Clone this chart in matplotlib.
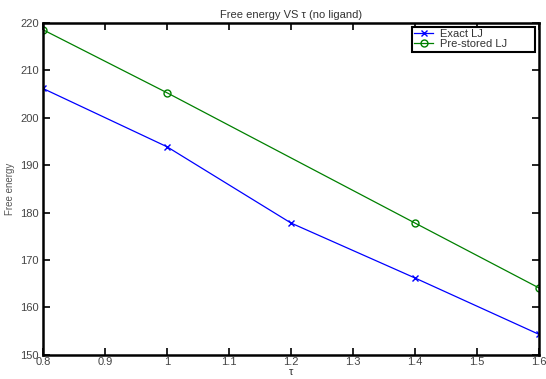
import numpy as np
import matplotlib
matplotlib.use("Agg")
import matplotlib.pyplot as plt

# Values
tau_exact = [0.8, 1.0, 1.2, 1.4, 1.6]
energy_exact = [206.2, 193.9, 177.8, 166.2, 154.3]
tau_prestored = [0.8, 1.0, 1.4, 1.6]
energy_prestored = [218.6, 205.3, 177.8, 164.1]

x_ticks = [0.8, 0.9, 1.0, 1.1, 1.2, 1.3, 1.4, 1.5, 1.6]
x_tick_labels = ["0.8", "0.9", "1", "1.1", "1.2", "1.3", "1.4", "1.5", "1.6"]
y_ticks = [150, 160, 170, 180, 190, 200, 210, 220]

plt.rcParams["font.family"] = ["Liberation Sans", "DejaVu Sans"]

fig = plt.figure(figsize=(5.46, 3.79), dpi=100)
ax = fig.add_axes([0.0788, 0.064, 0.9084, 0.875])

ax.plot(tau_exact, energy_exact, color="#0000ff", marker="x",
        markersize=4, linewidth=0.9, label="Exact LJ")
ax.plot(tau_prestored, energy_prestored, color="#008000", marker="o",
        markersize=5, markerfacecolor="none", linewidth=0.9,
        label="Pre-stored LJ")

ax.set_xlim(0.8, 1.6)
ax.set_ylim(150, 220)
ax.set_xticks(x_ticks)
ax.set_xticklabels(x_tick_labels)
ax.set_yticks(y_ticks)
ax.tick_params(direction="in", length=5, width=1.2, labelsize=8,
               labelcolor="#444444", top=True, right=True)
ax.tick_params(axis="x", pad=1.5)
ax.tick_params(axis="y", pad=3)
for s in ax.spines.values():
    s.set_linewidth(1.8)

ax.set_title("Free energy VS τ (no ligand)", fontsize=8, color="#333333", pad=4)
ax.set_xlabel("τ", fontsize=8, color="#333333", labelpad=0)
ax.set_ylabel("Free energy", fontsize=7, color="#555555", labelpad=4)

# MATLAB style legend box: wide, with room to the right of the text
leg = ax.legend(loc="upper left", bbox_to_anchor=(0.744, 0.913, 0.248, 0.075),
                mode="expand", fontsize=8, fancybox=False,
                edgecolor="black", framealpha=1, borderpad=0.2,
                handlelength=1.7, handletextpad=0.6, labelspacing=0.0,
                borderaxespad=0.0)
leg.get_frame().set_linewidth(1.5)
for t in leg.get_texts():
    t.set_color("#333333")

fig.savefig("out.png", dpi=100)
